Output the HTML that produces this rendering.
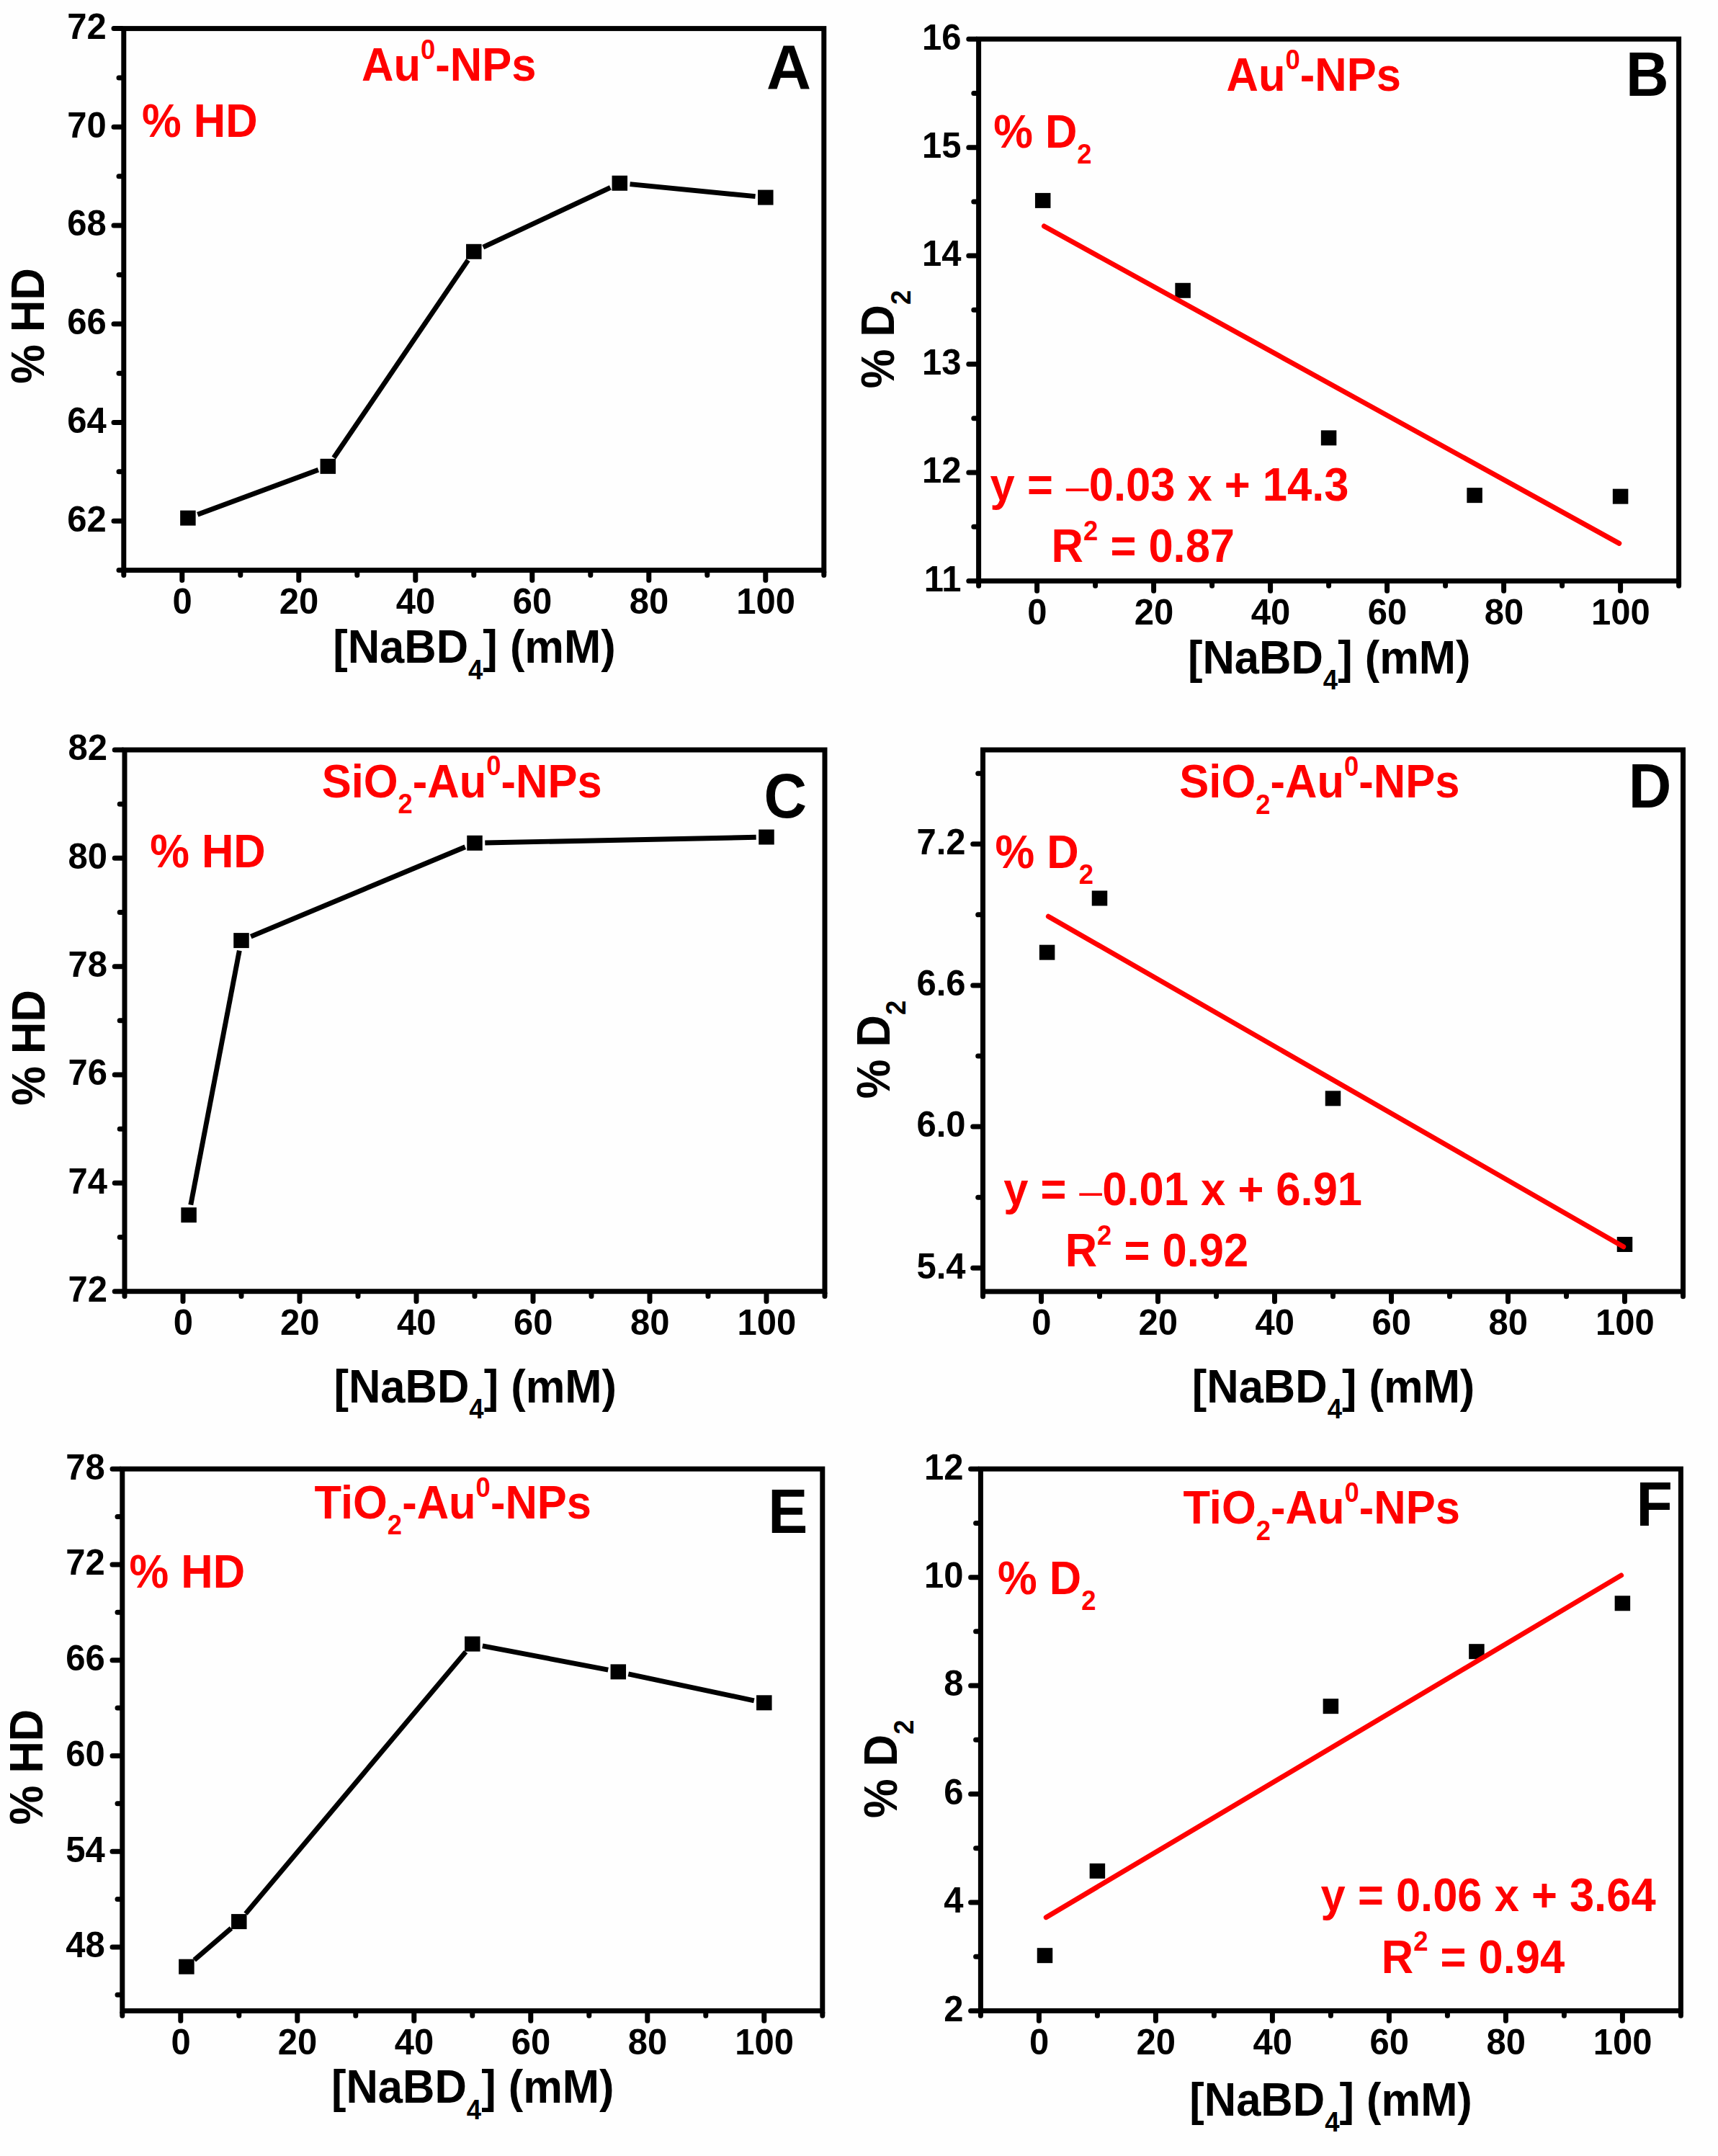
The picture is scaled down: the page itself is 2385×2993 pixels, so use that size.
<!DOCTYPE html>
<html lang="en">
<head>
<meta charset="utf-8">
<title>Figure: % HD and % D2 versus [NaBD4] for Au0-NPs, SiO2-Au0-NPs and TiO2-Au0-NPs</title>
<style>
html,body{margin:0;padding:0;background:#fff;}
body{width:2385px;height:2993px;overflow:hidden;}
svg{display:block;}
svg text{font-family:"Liberation Sans", Arial, sans-serif;font-weight:700;}
</style>
</head>
<body>
<svg width="2385" height="2993" viewBox="0 0 2385 2993">
<rect x="0" y="0" width="2385" height="2993" fill="#fefefe"/>
<g id="panel-A">
<path d="M168.8 723.24h-10.8M168.8 586.51h-10.8M168.8 449.78h-10.8M168.8 313.05h-10.8M168.8 176.33h-10.8M168.8 39.6h-10.8M168.8 791.6h-3.8M168.8 654.87h-3.8M168.8 518.15h-3.8M168.8 381.42h-3.8M168.8 244.69h-3.8M168.8 107.96h-3.8M252.8 794.6v10.8M414.8 794.6v10.8M576.8 794.6v10.8M738.8 794.6v10.8M900.8 794.6v10.8M1062.8 794.6v10.8M171.8 794.6v3.8M333.8 794.6v3.8M495.8 794.6v3.8M657.8 794.6v3.8M819.8 794.6v3.8M981.8 794.6v3.8M1143.8 794.6v3.8" stroke="#000" stroke-width="7" fill="none" stroke-linecap="round"/>
<rect x="171.8" y="39.6" width="972" height="752" fill="none" stroke="#000" stroke-width="7"/>
<text transform="translate(147.8 737.54) scale(1 1.02)" font-size="49.0" fill="#000" text-anchor="end">62</text>
<text transform="translate(147.8 600.81) scale(1 1.02)" font-size="49.0" fill="#000" text-anchor="end">64</text>
<text transform="translate(147.8 464.08) scale(1 1.02)" font-size="49.0" fill="#000" text-anchor="end">66</text>
<text transform="translate(147.8 327.35) scale(1 1.02)" font-size="49.0" fill="#000" text-anchor="end">68</text>
<text transform="translate(147.8 190.63) scale(1 1.02)" font-size="49.0" fill="#000" text-anchor="end">70</text>
<text transform="translate(147.8 53.9) scale(1 1.02)" font-size="49.0" fill="#000" text-anchor="end">72</text>
<text transform="translate(253.1 851.9) scale(1 1.02)" font-size="49.0" fill="#000" text-anchor="middle">0</text>
<text transform="translate(415.1 851.9) scale(1 1.02)" font-size="49.0" fill="#000" text-anchor="middle">20</text>
<text transform="translate(577.1 851.9) scale(1 1.02)" font-size="49.0" fill="#000" text-anchor="middle">40</text>
<text transform="translate(739.1 851.9) scale(1 1.02)" font-size="49.0" fill="#000" text-anchor="middle">60</text>
<text transform="translate(901.1 851.9) scale(1 1.02)" font-size="49.0" fill="#000" text-anchor="middle">80</text>
<text transform="translate(1063.1 851.9) scale(1 1.02)" font-size="49.0" fill="#000" text-anchor="middle">100</text>
<line x1="274.31" y1="714.18" x2="441.89" y2="652.31" stroke="#000" stroke-width="6.9"/>
<line x1="463.34" y1="635.52" x2="649.76" y2="361.12" stroke="#000" stroke-width="6.9"/>
<line x1="670.75" y1="343.21" x2="847.35" y2="260.34" stroke="#000" stroke-width="6.9"/>
<line x1="874.53" y1="255.66" x2="1048.57" y2="272.69" stroke="#000" stroke-width="6.9"/>
<rect x="250.15" y="708.63" width="21.5" height="21" fill="#000"/>
<rect x="444.55" y="636.85" width="21.5" height="21" fill="#000"/>
<rect x="647.05" y="338.79" width="21.5" height="21" fill="#000"/>
<rect x="849.55" y="243.76" width="21.5" height="21" fill="#000"/>
<rect x="1052.05" y="263.59" width="21.5" height="21" fill="#000"/>
<text transform="translate(502.07 111.9) scale(1 1.062)" font-size="61.5" fill="#ff0000">Au<tspan font-size="36.5" dy="-28.53">0</tspan><tspan dy="28.53">-NPs</tspan></text>
<text transform="translate(197.07 190.3) scale(1 1.062)" font-size="61.5" fill="#ff0000">% HD</text>
<text transform="translate(1064.06 122.7) scale(1 1.01)" font-size="86" fill="#000">A</text>
<text transform="translate(61.2 532.63) rotate(-90) scale(1 1.062)" font-size="61.5" fill="#000">% HD</text>
<text transform="translate(462.15 920.2) scale(1 1.062)" font-size="61.5" fill="#000">[NaBD<tspan font-size="36.5" dy="21">4</tspan><tspan dy="-21">] (mM)</tspan></text>
</g>
<g id="panel-B">
<path d="M1355.6 806.5h-10.8M1355.6 656.04h-10.8M1355.6 505.58h-10.8M1355.6 355.12h-10.8M1355.6 204.66h-10.8M1355.6 54.2h-10.8M1355.6 731.27h-3.8M1355.6 580.81h-3.8M1355.6 430.35h-3.8M1355.6 279.89h-3.8M1355.6 129.43h-3.8M1439.6 809.5v10.8M1601.6 809.5v10.8M1763.6 809.5v10.8M1925.6 809.5v10.8M2087.6 809.5v10.8M2249.6 809.5v10.8M1358.6 809.5v3.8M1520.6 809.5v3.8M1682.6 809.5v3.8M1844.6 809.5v3.8M2006.6 809.5v3.8M2168.6 809.5v3.8M2330.6 809.5v3.8" stroke="#000" stroke-width="7" fill="none" stroke-linecap="round"/>
<rect x="1358.6" y="54.2" width="972" height="752.3" fill="none" stroke="#000" stroke-width="7"/>
<text transform="translate(1334.6 820.8) scale(1 1.02)" font-size="49.0" fill="#000" text-anchor="end">11</text>
<text transform="translate(1334.6 670.34) scale(1 1.02)" font-size="49.0" fill="#000" text-anchor="end">12</text>
<text transform="translate(1334.6 519.88) scale(1 1.02)" font-size="49.0" fill="#000" text-anchor="end">13</text>
<text transform="translate(1334.6 369.42) scale(1 1.02)" font-size="49.0" fill="#000" text-anchor="end">14</text>
<text transform="translate(1334.6 218.96) scale(1 1.02)" font-size="49.0" fill="#000" text-anchor="end">15</text>
<text transform="translate(1334.6 68.5) scale(1 1.02)" font-size="49.0" fill="#000" text-anchor="end">16</text>
<text transform="translate(1439.9 866.8) scale(1 1.02)" font-size="49.0" fill="#000" text-anchor="middle">0</text>
<text transform="translate(1601.9 866.8) scale(1 1.02)" font-size="49.0" fill="#000" text-anchor="middle">20</text>
<text transform="translate(1763.9 866.8) scale(1 1.02)" font-size="49.0" fill="#000" text-anchor="middle">40</text>
<text transform="translate(1925.9 866.8) scale(1 1.02)" font-size="49.0" fill="#000" text-anchor="middle">60</text>
<text transform="translate(2087.9 866.8) scale(1 1.02)" font-size="49.0" fill="#000" text-anchor="middle">80</text>
<text transform="translate(2249.9 866.8) scale(1 1.02)" font-size="49.0" fill="#000" text-anchor="middle">100</text>
<rect x="1436.95" y="267.89" width="21.5" height="21" fill="#000"/>
<rect x="1631.35" y="392.77" width="21.5" height="21" fill="#000"/>
<rect x="1833.85" y="597.39" width="21.5" height="21" fill="#000"/>
<rect x="2036.35" y="677.14" width="21.5" height="21" fill="#000"/>
<rect x="2238.85" y="678.64" width="21.5" height="21" fill="#000"/>
<line x1="1449.45" y1="313.96" x2="2247.85" y2="754.38" stroke="#ff0000" stroke-width="6.9" stroke-linecap="round"/>
<text transform="translate(1702.57 126) scale(1 1.062)" font-size="61.5" fill="#ff0000">Au<tspan font-size="36.5" dy="-28.53">0</tspan><tspan dy="28.53">-NPs</tspan></text>
<text transform="translate(1379.17 205) scale(1 1.062)" font-size="61.5" fill="#ff0000">% D<tspan font-size="36.5" dy="21">2</tspan></text>
<text transform="translate(2256.98 132.7) scale(1 1.05)" font-size="82.5" fill="#000">B</text>
<text transform="translate(1241.4 539.13) rotate(-90) scale(1 1.062)" font-size="61.5" fill="#000">% D<tspan font-size="36.5" dy="21">2</tspan></text>
<text transform="translate(1648.95 935) scale(1 1.062)" font-size="61.5" fill="#000">[NaBD<tspan font-size="36.5" dy="21">4</tspan><tspan dy="-21">] (mM)</tspan></text>
<text transform="translate(1374.62 695.4) scale(1 1.062)" font-size="61.5" fill="#ff0000">y = <tspan font-family="'Liberation Serif', serif" font-weight="400" font-size="68" dx="-2.5" dy="8.1">−</tspan><tspan dx="-3" dy="-8.1">0.03 x + 14.3</tspan></text>
<text transform="translate(1459.59 780.3) scale(1 1.062)" font-size="61.5" fill="#ff0000">R<tspan font-size="36.5" dy="-28.53">2</tspan><tspan dy="28.53"> = 0.87</tspan></text>
</g>
<g id="panel-C">
<path d="M170 1792.7h-10.8M170 1642.36h-10.8M170 1492.02h-10.8M170 1341.68h-10.8M170 1191.34h-10.8M170 1041h-10.8M170 1717.53h-3.8M170 1567.19h-3.8M170 1416.85h-3.8M170 1266.51h-3.8M170 1116.17h-3.8M254 1795.7v10.8M416 1795.7v10.8M578 1795.7v10.8M740 1795.7v10.8M902 1795.7v10.8M1064 1795.7v10.8M173 1795.7v3.8M335 1795.7v3.8M497 1795.7v3.8M659 1795.7v3.8M821 1795.7v3.8M983 1795.7v3.8M1145 1795.7v3.8" stroke="#000" stroke-width="7" fill="none" stroke-linecap="round"/>
<rect x="173" y="1041" width="972" height="751.7" fill="none" stroke="#000" stroke-width="7"/>
<text transform="translate(149 1807) scale(1 1.02)" font-size="49.0" fill="#000" text-anchor="end">72</text>
<text transform="translate(149 1656.66) scale(1 1.02)" font-size="49.0" fill="#000" text-anchor="end">74</text>
<text transform="translate(149 1506.32) scale(1 1.02)" font-size="49.0" fill="#000" text-anchor="end">76</text>
<text transform="translate(149 1355.98) scale(1 1.02)" font-size="49.0" fill="#000" text-anchor="end">78</text>
<text transform="translate(149 1205.64) scale(1 1.02)" font-size="49.0" fill="#000" text-anchor="end">80</text>
<text transform="translate(149 1055.3) scale(1 1.02)" font-size="49.0" fill="#000" text-anchor="end">82</text>
<text transform="translate(254.3 1853) scale(1 1.02)" font-size="49.0" fill="#000" text-anchor="middle">0</text>
<text transform="translate(416.3 1853) scale(1 1.02)" font-size="49.0" fill="#000" text-anchor="middle">20</text>
<text transform="translate(578.3 1853) scale(1 1.02)" font-size="49.0" fill="#000" text-anchor="middle">40</text>
<text transform="translate(740.3 1853) scale(1 1.02)" font-size="49.0" fill="#000" text-anchor="middle">60</text>
<text transform="translate(902.3 1853) scale(1 1.02)" font-size="49.0" fill="#000" text-anchor="middle">80</text>
<text transform="translate(1064.3 1853) scale(1 1.02)" font-size="49.0" fill="#000" text-anchor="middle">100</text>
<line x1="264.79" y1="1672.66" x2="332.31" y2="1319.64" stroke="#000" stroke-width="6.9"/>
<line x1="348.2" y1="1300.09" x2="645.8" y2="1175.8" stroke="#000" stroke-width="6.9"/>
<line x1="673.3" y1="1170" x2="1049.7" y2="1162.32" stroke="#000" stroke-width="6.9"/>
<rect x="251.35" y="1676.21" width="21.5" height="21" fill="#000"/>
<rect x="324.25" y="1295.1" width="21.5" height="21" fill="#000"/>
<rect x="648.25" y="1159.79" width="21.5" height="21" fill="#000"/>
<rect x="1053.25" y="1151.52" width="21.5" height="21" fill="#000"/>
<text transform="translate(446.63 1106.5) scale(1 1.062)" font-size="61.5" fill="#ff0000">SiO<tspan font-size="36.5" dy="21">2</tspan><tspan dy="-21">-Au</tspan><tspan font-size="36.5" dy="-28.53">0</tspan><tspan dy="28.53">-NPs</tspan></text>
<text transform="translate(208.17 1203.5) scale(1 1.062)" font-size="61.5" fill="#ff0000">% HD</text>
<text transform="translate(1060.52 1134.8) scale(1 1.05)" font-size="82.5" fill="#000">C</text>
<text transform="translate(62.4 1534.73) rotate(-90) scale(1 1.062)" font-size="61.5" fill="#000">% HD</text>
<text transform="translate(463.45 1946.6) scale(1 1.062)" font-size="61.5" fill="#000">[NaBD<tspan font-size="36.5" dy="21">4</tspan><tspan dy="-21">] (mM)</tspan></text>
</g>
<g id="panel-D">
<path d="M1361.5 1760.21h-10.8M1361.5 1564.06h-10.8M1361.5 1367.91h-10.8M1361.5 1171.77h-10.8M1361.5 1662.13h-3.8M1361.5 1465.99h-3.8M1361.5 1269.84h-3.8M1361.5 1073.69h-3.8M1445.5 1795.9v10.8M1607.5 1795.9v10.8M1769.5 1795.9v10.8M1931.5 1795.9v10.8M2093.5 1795.9v10.8M2255.5 1795.9v10.8M1364.5 1795.9v3.8M1526.5 1795.9v3.8M1688.5 1795.9v3.8M1850.5 1795.9v3.8M2012.5 1795.9v3.8M2174.5 1795.9v3.8M2336.5 1795.9v3.8" stroke="#000" stroke-width="7" fill="none" stroke-linecap="round"/>
<rect x="1364.5" y="1041" width="972" height="751.9" fill="none" stroke="#000" stroke-width="7"/>
<text transform="translate(1340.5 1774.51) scale(1 1.02)" font-size="49.0" fill="#000" text-anchor="end">5.4</text>
<text transform="translate(1340.5 1578.36) scale(1 1.02)" font-size="49.0" fill="#000" text-anchor="end">6.0</text>
<text transform="translate(1340.5 1382.21) scale(1 1.02)" font-size="49.0" fill="#000" text-anchor="end">6.6</text>
<text transform="translate(1340.5 1186.07) scale(1 1.02)" font-size="49.0" fill="#000" text-anchor="end">7.2</text>
<text transform="translate(1445.8 1853.2) scale(1 1.02)" font-size="49.0" fill="#000" text-anchor="middle">0</text>
<text transform="translate(1607.8 1853.2) scale(1 1.02)" font-size="49.0" fill="#000" text-anchor="middle">20</text>
<text transform="translate(1769.8 1853.2) scale(1 1.02)" font-size="49.0" fill="#000" text-anchor="middle">40</text>
<text transform="translate(1931.8 1853.2) scale(1 1.02)" font-size="49.0" fill="#000" text-anchor="middle">60</text>
<text transform="translate(2093.8 1853.2) scale(1 1.02)" font-size="49.0" fill="#000" text-anchor="middle">80</text>
<text transform="translate(2255.8 1853.2) scale(1 1.02)" font-size="49.0" fill="#000" text-anchor="middle">100</text>
<rect x="1442.85" y="1311.65" width="21.5" height="21" fill="#000"/>
<rect x="1515.75" y="1236.46" width="21.5" height="21" fill="#000"/>
<rect x="1839.75" y="1514.33" width="21.5" height="21" fill="#000"/>
<rect x="2244.75" y="1717.02" width="21.5" height="21" fill="#000"/>
<line x1="1455.33" y1="1272.14" x2="2253.77" y2="1730.77" stroke="#ff0000" stroke-width="6.9" stroke-linecap="round"/>
<text transform="translate(1637.33 1107.3) scale(1 1.062)" font-size="61.5" fill="#ff0000">SiO<tspan font-size="36.5" dy="21">2</tspan><tspan dy="-21">-Au</tspan><tspan font-size="36.5" dy="-28.53">0</tspan><tspan dy="28.53">-NPs</tspan></text>
<text transform="translate(1381.57 1205) scale(1 1.062)" font-size="61.5" fill="#ff0000">% D<tspan font-size="36.5" dy="21">2</tspan></text>
<text transform="translate(2260.68 1121) scale(1 1.05)" font-size="82.5" fill="#000">D</text>
<text transform="translate(1234.8 1525.23) rotate(-90) scale(1 1.062)" font-size="61.5" fill="#000">% D<tspan font-size="36.5" dy="21">2</tspan></text>
<text transform="translate(1654.75 1946.6) scale(1 1.062)" font-size="61.5" fill="#000">[NaBD<tspan font-size="36.5" dy="21">4</tspan><tspan dy="-21">] (mM)</tspan></text>
<text transform="translate(1393.22 1673.2) scale(1 1.062)" font-size="61.5" fill="#ff0000">y = <tspan font-family="'Liberation Serif', serif" font-weight="400" font-size="68" dx="-2.5" dy="8.1">−</tspan><tspan dx="-3" dy="-8.1">0.01 x + 6.91</tspan></text>
<text transform="translate(1478.69 1758.3) scale(1 1.062)" font-size="61.5" fill="#ff0000">R<tspan font-size="36.5" dy="-28.53">2</tspan><tspan dy="28.53"> = 0.92</tspan></text>
</g>
<g id="panel-E">
<path d="M166.8 2702.99h-10.8M166.8 2570.24h-10.8M166.8 2437.48h-10.8M166.8 2304.72h-10.8M166.8 2171.96h-10.8M166.8 2039.2h-10.8M166.8 2769.37h-3.8M166.8 2636.61h-3.8M166.8 2503.86h-3.8M166.8 2371.1h-3.8M166.8 2238.34h-3.8M166.8 2105.58h-3.8M250.8 2794.5v10.8M412.8 2794.5v10.8M574.8 2794.5v10.8M736.8 2794.5v10.8M898.8 2794.5v10.8M1060.8 2794.5v10.8M169.8 2794.5v3.8M331.8 2794.5v3.8M493.8 2794.5v3.8M655.8 2794.5v3.8M817.8 2794.5v3.8M979.8 2794.5v3.8M1141.8 2794.5v3.8" stroke="#000" stroke-width="7" fill="none" stroke-linecap="round"/>
<rect x="169.8" y="2039.2" width="972" height="752.3" fill="none" stroke="#000" stroke-width="7"/>
<text transform="translate(145.8 2717.29) scale(1 1.02)" font-size="49.0" fill="#000" text-anchor="end">48</text>
<text transform="translate(145.8 2584.54) scale(1 1.02)" font-size="49.0" fill="#000" text-anchor="end">54</text>
<text transform="translate(145.8 2451.78) scale(1 1.02)" font-size="49.0" fill="#000" text-anchor="end">60</text>
<text transform="translate(145.8 2319.02) scale(1 1.02)" font-size="49.0" fill="#000" text-anchor="end">66</text>
<text transform="translate(145.8 2186.26) scale(1 1.02)" font-size="49.0" fill="#000" text-anchor="end">72</text>
<text transform="translate(145.8 2053.5) scale(1 1.02)" font-size="49.0" fill="#000" text-anchor="end">78</text>
<text transform="translate(251.1 2851.8) scale(1 1.02)" font-size="49.0" fill="#000" text-anchor="middle">0</text>
<text transform="translate(413.1 2851.8) scale(1 1.02)" font-size="49.0" fill="#000" text-anchor="middle">20</text>
<text transform="translate(575.1 2851.8) scale(1 1.02)" font-size="49.0" fill="#000" text-anchor="middle">40</text>
<text transform="translate(737.1 2851.8) scale(1 1.02)" font-size="49.0" fill="#000" text-anchor="middle">60</text>
<text transform="translate(899.1 2851.8) scale(1 1.02)" font-size="49.0" fill="#000" text-anchor="middle">80</text>
<text transform="translate(1061.1 2851.8) scale(1 1.02)" font-size="49.0" fill="#000" text-anchor="middle">100</text>
<line x1="269.75" y1="2720.89" x2="320.95" y2="2676.91" stroke="#000" stroke-width="6.9"/>
<line x1="341" y1="2656.65" x2="646.6" y2="2293.1" stroke="#000" stroke-width="6.9"/>
<line x1="669.85" y1="2284.83" x2="844.25" y2="2318.18" stroke="#000" stroke-width="6.9"/>
<line x1="872.29" y1="2323.84" x2="1046.81" y2="2360.83" stroke="#000" stroke-width="6.9"/>
<rect x="248.15" y="2719.71" width="21.5" height="21" fill="#000"/>
<rect x="321.05" y="2657.09" width="21.5" height="21" fill="#000"/>
<rect x="645.05" y="2271.65" width="21.5" height="21" fill="#000"/>
<rect x="847.55" y="2310.37" width="21.5" height="21" fill="#000"/>
<rect x="1050.05" y="2353.3" width="21.5" height="21" fill="#000"/>
<text transform="translate(436.51 2108.1) scale(1 1.062)" font-size="61.5" fill="#ff0000">TiO<tspan font-size="36.5" dy="21">2</tspan><tspan dy="-21">-Au</tspan><tspan font-size="36.5" dy="-28.53">0</tspan><tspan dy="28.53">-NPs</tspan></text>
<text transform="translate(179.57 2204.3) scale(1 1.062)" font-size="61.5" fill="#ff0000">% HD</text>
<text transform="translate(1066.28 2127.7) scale(1 1.05)" font-size="82.5" fill="#000">E</text>
<text transform="translate(59 2533.33) rotate(-90) scale(1 1.062)" font-size="61.5" fill="#000">% HD</text>
<text transform="translate(459.95 2919.2) scale(1 1.062)" font-size="61.5" fill="#000">[NaBD<tspan font-size="36.5" dy="21">4</tspan><tspan dy="-21">] (mM)</tspan></text>
</g>
<g id="panel-F">
<path d="M1358.4 2791.4h-10.8M1358.4 2640.96h-10.8M1358.4 2490.52h-10.8M1358.4 2340.08h-10.8M1358.4 2189.64h-10.8M1358.4 2039.2h-10.8M1358.4 2716.18h-3.8M1358.4 2565.74h-3.8M1358.4 2415.3h-3.8M1358.4 2264.86h-3.8M1358.4 2114.42h-3.8M1442.4 2794.4v10.8M1604.4 2794.4v10.8M1766.4 2794.4v10.8M1928.4 2794.4v10.8M2090.4 2794.4v10.8M2252.4 2794.4v10.8M1361.4 2794.4v3.8M1523.4 2794.4v3.8M1685.4 2794.4v3.8M1847.4 2794.4v3.8M2009.4 2794.4v3.8M2171.4 2794.4v3.8M2333.4 2794.4v3.8" stroke="#000" stroke-width="7" fill="none" stroke-linecap="round"/>
<rect x="1361.4" y="2039.2" width="972" height="752.2" fill="none" stroke="#000" stroke-width="7"/>
<text transform="translate(1337.4 2805.7) scale(1 1.02)" font-size="49.0" fill="#000" text-anchor="end">2</text>
<text transform="translate(1337.4 2655.26) scale(1 1.02)" font-size="49.0" fill="#000" text-anchor="end">4</text>
<text transform="translate(1337.4 2504.82) scale(1 1.02)" font-size="49.0" fill="#000" text-anchor="end">6</text>
<text transform="translate(1337.4 2354.38) scale(1 1.02)" font-size="49.0" fill="#000" text-anchor="end">8</text>
<text transform="translate(1337.4 2203.94) scale(1 1.02)" font-size="49.0" fill="#000" text-anchor="end">10</text>
<text transform="translate(1337.4 2053.5) scale(1 1.02)" font-size="49.0" fill="#000" text-anchor="end">12</text>
<text transform="translate(1442.7 2851.7) scale(1 1.02)" font-size="49.0" fill="#000" text-anchor="middle">0</text>
<text transform="translate(1604.7 2851.7) scale(1 1.02)" font-size="49.0" fill="#000" text-anchor="middle">20</text>
<text transform="translate(1766.7 2851.7) scale(1 1.02)" font-size="49.0" fill="#000" text-anchor="middle">40</text>
<text transform="translate(1928.7 2851.7) scale(1 1.02)" font-size="49.0" fill="#000" text-anchor="middle">60</text>
<text transform="translate(2090.7 2851.7) scale(1 1.02)" font-size="49.0" fill="#000" text-anchor="middle">80</text>
<text transform="translate(2252.7 2851.7) scale(1 1.02)" font-size="49.0" fill="#000" text-anchor="middle">100</text>
<rect x="1439.75" y="2704.18" width="21.5" height="21" fill="#000"/>
<rect x="1512.65" y="2586.83" width="21.5" height="21" fill="#000"/>
<rect x="1836.65" y="2358.16" width="21.5" height="21" fill="#000"/>
<rect x="2039.15" y="2282.19" width="21.5" height="21" fill="#000"/>
<rect x="2241.65" y="2215.25" width="21.5" height="21" fill="#000"/>
<line x1="1452.22" y1="2661.75" x2="2250.68" y2="2186.9" stroke="#ff0000" stroke-width="6.9" stroke-linecap="round"/>
<text transform="translate(1642.41 2115.2) scale(1 1.062)" font-size="61.5" fill="#ff0000">TiO<tspan font-size="36.5" dy="21">2</tspan><tspan dy="-21">-Au</tspan><tspan font-size="36.5" dy="-28.53">0</tspan><tspan dy="28.53">-NPs</tspan></text>
<text transform="translate(1385.07 2213) scale(1 1.062)" font-size="61.5" fill="#ff0000">% D<tspan font-size="36.5" dy="21">2</tspan></text>
<text transform="translate(2271.48 2117.5) scale(1 1.05)" font-size="82.5" fill="#000">F</text>
<text transform="translate(1245.2 2523.93) rotate(-90) scale(1 1.062)" font-size="61.5" fill="#000">% D<tspan font-size="36.5" dy="21">2</tspan></text>
<text transform="translate(1651.25 2937) scale(1 1.062)" font-size="61.5" fill="#000">[NaBD<tspan font-size="36.5" dy="21">4</tspan><tspan dy="-21">] (mM)</tspan></text>
<text transform="translate(1833.62 2653.4) scale(1 1.062)" font-size="61.5" fill="#ff0000">y = 0.06 x + 3.64</text>
<text transform="translate(1917.79 2738.6) scale(1 1.062)" font-size="61.5" fill="#ff0000">R<tspan font-size="36.5" dy="-28.53">2</tspan><tspan dy="28.53"> = 0.94</tspan></text>
</g>
</svg>
</body>
</html>
